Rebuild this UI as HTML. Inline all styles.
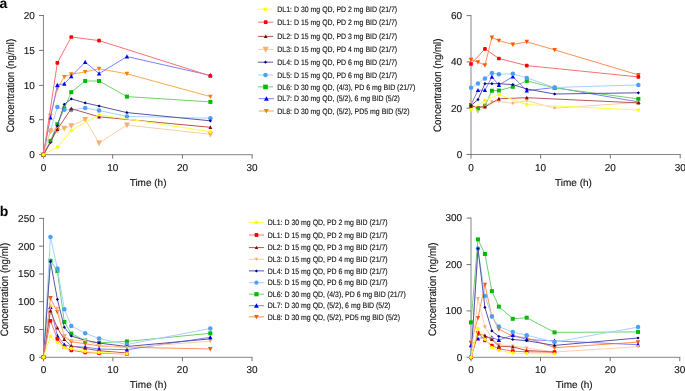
<!DOCTYPE html>
<html><head><meta charset="utf-8"><style>
html,body{margin:0;padding:0;background:#fff;width:685px;height:391px;overflow:hidden}
svg{display:block;will-change:transform;text-rendering:geometricPrecision}
.t{font-family:"Liberation Sans",sans-serif;font-size:10px;fill:#111;stroke:#111;stroke-width:0.12px}
.lg{font-family:"Liberation Sans",sans-serif;font-size:7.8px;fill:#111;stroke:#111;stroke-width:0.13px}
.yl{font-size:10.8px}
.pl{font-family:"Liberation Sans",sans-serif;font-size:14px;font-weight:bold;fill:#000}
</style></head><body>
<svg width="685" height="391" viewBox="0 0 685 391">
<text x="-0.6" y="7.7" class="pl">a</text>
<text x="-0.3" y="215.7" class="pl">b</text>
<path d="M43.45 15.0V154.7H252.6" fill="none" stroke="#858585" stroke-width="1"/>
<path d="M39.05 154.7H43.45" stroke="#666666" stroke-width="0.9"/>
<text x="34.8" y="158.00" text-anchor="end" class="t">0</text>
<path d="M39.05 119.7H43.45" stroke="#666666" stroke-width="0.9"/>
<text x="34.8" y="123.00" text-anchor="end" class="t">5</text>
<path d="M39.05 85.4H43.45" stroke="#666666" stroke-width="0.9"/>
<text x="34.8" y="88.70" text-anchor="end" class="t">10</text>
<path d="M39.05 50.4H43.45" stroke="#666666" stroke-width="0.9"/>
<text x="34.8" y="53.70" text-anchor="end" class="t">15</text>
<path d="M39.05 15.5H43.45" stroke="#666666" stroke-width="0.9"/>
<text x="34.8" y="18.80" text-anchor="end" class="t">20</text>
<path d="M43.45 154.7V158.70" stroke="#666666" stroke-width="0.9"/>
<text x="43.45" y="171.20" text-anchor="middle" class="t">0</text>
<path d="M112.70 154.7V158.70" stroke="#666666" stroke-width="0.9"/>
<text x="112.70" y="171.20" text-anchor="middle" class="t">10</text>
<path d="M182.45 154.7V158.70" stroke="#666666" stroke-width="0.9"/>
<text x="182.45" y="171.20" text-anchor="middle" class="t">20</text>
<path d="M252.10 154.7V158.70" stroke="#666666" stroke-width="0.9"/>
<text x="252.10" y="171.20" text-anchor="middle" class="t">30</text>
<text x="148.1" y="185.9" text-anchor="middle" class="t">Time (h)</text>
<text transform="translate(13.9,85.6) rotate(-90) scale(0.9,1)" text-anchor="middle" class="t yl">Concentration (ng/ml)</text>
<path d="M471.0 15.1V154.5H680.7" fill="none" stroke="#858585" stroke-width="1"/>
<path d="M466.60 154.5H471.0" stroke="#666666" stroke-width="0.9"/>
<text x="462.2" y="157.80" text-anchor="end" class="t">0</text>
<path d="M466.60 108.2H471.0" stroke="#666666" stroke-width="0.9"/>
<text x="462.2" y="111.50" text-anchor="end" class="t">20</text>
<path d="M466.60 61.9H471.0" stroke="#666666" stroke-width="0.9"/>
<text x="462.2" y="65.20" text-anchor="end" class="t">40</text>
<path d="M466.60 15.6H471.0" stroke="#666666" stroke-width="0.9"/>
<text x="462.2" y="18.90" text-anchor="end" class="t">60</text>
<path d="M471.00 154.5V158.50" stroke="#666666" stroke-width="0.9"/>
<text x="471.00" y="171.00" text-anchor="middle" class="t">0</text>
<path d="M540.60 154.5V158.50" stroke="#666666" stroke-width="0.9"/>
<text x="540.60" y="171.00" text-anchor="middle" class="t">10</text>
<path d="M610.30 154.5V158.50" stroke="#666666" stroke-width="0.9"/>
<text x="610.30" y="171.00" text-anchor="middle" class="t">20</text>
<path d="M680.20 154.5V158.50" stroke="#666666" stroke-width="0.9"/>
<text x="680.20" y="171.00" text-anchor="middle" class="t">30</text>
<text x="573.5" y="185.6" text-anchor="middle" class="t">Time (h)</text>
<text transform="translate(441.0,85.2) rotate(-90) scale(0.9,1)" text-anchor="middle" class="t yl">Concentration (ng/ml)</text>
<path d="M43.5 217.9V357.3H252.5" fill="none" stroke="#858585" stroke-width="1"/>
<path d="M39.10 357.3H43.5" stroke="#666666" stroke-width="0.9"/>
<text x="34.8" y="360.60" text-anchor="end" class="t">0</text>
<path d="M39.10 329.5H43.5" stroke="#666666" stroke-width="0.9"/>
<text x="34.8" y="332.80" text-anchor="end" class="t">50</text>
<path d="M39.10 301.7H43.5" stroke="#666666" stroke-width="0.9"/>
<text x="34.8" y="305.00" text-anchor="end" class="t">100</text>
<path d="M39.10 274.0H43.5" stroke="#666666" stroke-width="0.9"/>
<text x="34.8" y="277.30" text-anchor="end" class="t">150</text>
<path d="M39.10 246.2H43.5" stroke="#666666" stroke-width="0.9"/>
<text x="34.8" y="249.50" text-anchor="end" class="t">200</text>
<path d="M39.10 218.4H43.5" stroke="#666666" stroke-width="0.9"/>
<text x="34.8" y="221.70" text-anchor="end" class="t">250</text>
<path d="M43.50 357.3V361.30" stroke="#666666" stroke-width="0.9"/>
<text x="43.50" y="372.80" text-anchor="middle" class="t">0</text>
<path d="M112.90 357.3V361.30" stroke="#666666" stroke-width="0.9"/>
<text x="112.90" y="372.80" text-anchor="middle" class="t">10</text>
<path d="M182.40 357.3V361.30" stroke="#666666" stroke-width="0.9"/>
<text x="182.40" y="372.80" text-anchor="middle" class="t">20</text>
<path d="M252.00 357.3V361.30" stroke="#666666" stroke-width="0.9"/>
<text x="252.00" y="372.80" text-anchor="middle" class="t">30</text>
<text x="148.3" y="388.2" text-anchor="middle" class="t">Time (h)</text>
<text transform="translate(8.2,289.6) rotate(-90) scale(0.9,1)" text-anchor="middle" class="t yl">Concentration (ng/ml)</text>
<path d="M471.0 217.6V357.3H680.3" fill="none" stroke="#858585" stroke-width="1"/>
<path d="M466.60 357.3H471.0" stroke="#666666" stroke-width="0.9"/>
<text x="462.2" y="360.60" text-anchor="end" class="t">0</text>
<path d="M466.60 310.9H471.0" stroke="#666666" stroke-width="0.9"/>
<text x="462.2" y="314.20" text-anchor="end" class="t">100</text>
<path d="M466.60 264.55H471.0" stroke="#666666" stroke-width="0.9"/>
<text x="462.2" y="267.85" text-anchor="end" class="t">200</text>
<path d="M466.60 218.1H471.0" stroke="#666666" stroke-width="0.9"/>
<text x="462.2" y="221.40" text-anchor="end" class="t">300</text>
<path d="M471.00 357.3V361.30" stroke="#666666" stroke-width="0.9"/>
<text x="471.00" y="372.80" text-anchor="middle" class="t">0</text>
<path d="M540.50 357.3V361.30" stroke="#666666" stroke-width="0.9"/>
<text x="540.50" y="372.80" text-anchor="middle" class="t">10</text>
<path d="M610.20 357.3V361.30" stroke="#666666" stroke-width="0.9"/>
<text x="610.20" y="372.80" text-anchor="middle" class="t">20</text>
<path d="M679.80 357.3V361.30" stroke="#666666" stroke-width="0.9"/>
<text x="679.80" y="372.80" text-anchor="middle" class="t">30</text>
<text x="574.2" y="388.4" text-anchor="middle" class="t">Time (h)</text>
<text transform="translate(436.3,289.3) rotate(-90) scale(0.9,1)" text-anchor="middle" class="t yl">Concentration (ng/ml)</text>
<path d="M43.45 154.70L50.41 115.80L57.36 88.50L64.31 76.90L71.27 74.20L85.18 71.90L99.09 68.80L126.91 73.80L210.37 96.60" fill="none" stroke="#ffa84a" stroke-width="1"/>
<path d="M41.15 152.74L45.75 152.74L43.45 157.11Z" fill="#ff8000"/>
<path d="M48.11 113.84L52.70 113.84L50.41 118.22Z" fill="#ff8000"/>
<path d="M55.06 86.55L59.66 86.55L57.36 90.92Z" fill="#ff8000"/>
<path d="M62.02 74.95L66.61 74.95L64.31 79.32Z" fill="#ff8000"/>
<path d="M68.97 72.25L73.57 72.25L71.27 76.62Z" fill="#ff8000"/>
<path d="M82.88 69.95L87.48 69.95L85.18 74.32Z" fill="#ff8000"/>
<path d="M96.79 66.84L101.39 66.84L99.09 71.22Z" fill="#ff8000"/>
<path d="M124.61 71.84L129.21 71.84L126.91 76.22Z" fill="#ff8000"/>
<path d="M208.07 94.64L212.67 94.64L210.37 99.02Z" fill="#ff8000"/>
<path d="M43.45 154.70L50.41 117.70L57.36 85.10L64.31 83.80L71.27 76.40L85.18 62.10L99.09 73.60L126.91 56.60L210.37 75.40" fill="none" stroke="#7f7fff" stroke-width="1"/>
<path d="M43.45 152.39L45.65 156.57L41.25 156.57Z" fill="#0000ff"/>
<path d="M50.41 115.39L52.61 119.57L48.20 119.57Z" fill="#0000ff"/>
<path d="M57.36 82.79L59.56 86.97L55.16 86.97Z" fill="#0000ff"/>
<path d="M64.31 81.49L66.52 85.67L62.11 85.67Z" fill="#0000ff"/>
<path d="M71.27 74.09L73.47 78.27L69.07 78.27Z" fill="#0000ff"/>
<path d="M85.18 59.79L87.38 63.97L82.98 63.97Z" fill="#0000ff"/>
<path d="M99.09 71.29L101.29 75.47L96.89 75.47Z" fill="#0000ff"/>
<path d="M126.91 54.29L129.11 58.47L124.71 58.47Z" fill="#0000ff"/>
<path d="M210.37 73.09L212.57 77.27L208.17 77.27Z" fill="#0000ff"/>
<path d="M43.45 154.70L50.41 140.90L57.36 124.20L64.31 108.40L71.27 92.20L85.18 81.00L99.09 81.00L126.91 96.60L210.37 101.90" fill="none" stroke="#70d070" stroke-width="1"/>
<rect x="41.45" y="152.70" width="4.00" height="4.00" fill="#00bb00"/>
<rect x="48.41" y="138.90" width="4.00" height="4.00" fill="#00bb00"/>
<rect x="55.36" y="122.20" width="4.00" height="4.00" fill="#00bb00"/>
<rect x="62.31" y="106.40" width="4.00" height="4.00" fill="#00bb00"/>
<rect x="69.27" y="90.20" width="4.00" height="4.00" fill="#00bb00"/>
<rect x="83.18" y="79.00" width="4.00" height="4.00" fill="#00bb00"/>
<rect x="97.09" y="79.00" width="4.00" height="4.00" fill="#00bb00"/>
<rect x="124.91" y="94.60" width="4.00" height="4.00" fill="#00bb00"/>
<rect x="208.37" y="99.90" width="4.00" height="4.00" fill="#00bb00"/>
<path d="M43.45 154.70L50.41 130.50L57.36 107.10L64.31 109.70L71.27 110.10L85.18 107.90L99.09 110.60L126.91 116.40L210.37 118.20" fill="none" stroke="#a8d0ff" stroke-width="1"/>
<circle cx="43.45" cy="154.70" r="2.25" fill="#4da0fa"/>
<circle cx="50.41" cy="130.50" r="2.25" fill="#4da0fa"/>
<circle cx="57.36" cy="107.10" r="2.25" fill="#4da0fa"/>
<circle cx="64.31" cy="109.70" r="2.25" fill="#4da0fa"/>
<circle cx="71.27" cy="110.10" r="2.25" fill="#4da0fa"/>
<circle cx="85.18" cy="107.90" r="2.25" fill="#4da0fa"/>
<circle cx="99.09" cy="110.60" r="2.25" fill="#4da0fa"/>
<circle cx="126.91" cy="116.40" r="2.25" fill="#4da0fa"/>
<circle cx="210.37" cy="118.20" r="2.25" fill="#4da0fa"/>
<path d="M43.45 154.70L50.41 142.60L57.36 125.90L64.31 104.30L71.27 98.90L85.18 102.90L99.09 106.00L126.91 112.60L210.37 120.80" fill="none" stroke="#5555a8" stroke-width="1"/>
<path d="M43.45 153.10L45.05 154.70L43.45 156.30L41.85 154.70Z" fill="#000080"/>
<path d="M50.41 141.00L52.01 142.60L50.41 144.20L48.80 142.60Z" fill="#000080"/>
<path d="M57.36 124.30L58.96 125.90L57.36 127.50L55.76 125.90Z" fill="#000080"/>
<path d="M64.31 102.70L65.91 104.30L64.31 105.90L62.71 104.30Z" fill="#000080"/>
<path d="M71.27 97.30L72.87 98.90L71.27 100.50L69.67 98.90Z" fill="#000080"/>
<path d="M85.18 101.30L86.78 102.90L85.18 104.50L83.58 102.90Z" fill="#000080"/>
<path d="M99.09 104.40L100.69 106.00L99.09 107.60L97.49 106.00Z" fill="#000080"/>
<path d="M126.91 111.00L128.51 112.60L126.91 114.20L125.31 112.60Z" fill="#000080"/>
<path d="M210.37 119.20L211.97 120.80L210.37 122.40L208.77 120.80Z" fill="#000080"/>
<path d="M43.45 154.70L50.41 131.10L57.36 130.50L64.31 128.30L71.27 125.80L85.18 119.50L99.09 143.00L126.91 125.10L210.37 134.30" fill="none" stroke="#f9cfa8" stroke-width="1"/>
<path d="M40.45 152.15L46.45 152.15L43.45 157.85Z" fill="#f5b070"/>
<path d="M47.41 128.55L53.41 128.55L50.41 134.25Z" fill="#f5b070"/>
<path d="M54.36 127.95L60.36 127.95L57.36 133.65Z" fill="#f5b070"/>
<path d="M61.31 125.75L67.31 125.75L64.31 131.45Z" fill="#f5b070"/>
<path d="M68.27 123.25L74.27 123.25L71.27 128.95Z" fill="#f5b070"/>
<path d="M82.18 116.95L88.18 116.95L85.18 122.65Z" fill="#f5b070"/>
<path d="M96.09 140.45L102.09 140.45L99.09 146.15Z" fill="#f5b070"/>
<path d="M123.91 122.55L129.91 122.55L126.91 128.25Z" fill="#f5b070"/>
<path d="M207.37 131.75L213.37 131.75L210.37 137.45Z" fill="#f5b070"/>
<path d="M43.45 154.70L57.36 129.40L71.27 108.60L99.09 116.80L210.37 127.30" fill="none" stroke="#b85555" stroke-width="1"/>
<path d="M43.45 152.70L45.35 156.31L41.55 156.31Z" fill="#990000"/>
<path d="M57.36 127.41L59.26 131.02L55.46 131.02Z" fill="#990000"/>
<path d="M71.27 106.60L73.17 110.21L69.37 110.21Z" fill="#990000"/>
<path d="M99.09 114.80L100.99 118.41L97.19 118.41Z" fill="#990000"/>
<path d="M210.37 125.30L212.27 128.91L208.47 128.91Z" fill="#990000"/>
<path d="M43.45 154.70L57.36 62.90L71.27 37.00L99.09 40.60L210.37 75.90" fill="none" stroke="#ff7070" stroke-width="1"/>
<rect x="41.60" y="152.85" width="3.70" height="3.70" rx="0.9" fill="#ff0000"/>
<rect x="55.51" y="61.05" width="3.70" height="3.70" rx="0.9" fill="#ff0000"/>
<rect x="69.42" y="35.15" width="3.70" height="3.70" rx="0.9" fill="#ff0000"/>
<rect x="97.24" y="38.75" width="3.70" height="3.70" rx="0.9" fill="#ff0000"/>
<rect x="208.52" y="74.05" width="3.70" height="3.70" rx="0.9" fill="#ff0000"/>
<path d="M43.45 154.70L57.36 147.00L71.27 130.40L99.09 114.70L210.37 131.70" fill="none" stroke="#ffff40" stroke-width="1"/>
<circle cx="43.45" cy="154.70" r="1.80" fill="#ffff00"/>
<circle cx="57.36" cy="147.00" r="1.80" fill="#ffff00"/>
<circle cx="71.27" cy="130.40" r="1.80" fill="#ffff00"/>
<circle cx="99.09" cy="114.70" r="1.80" fill="#ffff00"/>
<circle cx="210.37" cy="131.70" r="1.80" fill="#ffff00"/>
<path d="M471.00 59.80L477.97 62.10L484.95 65.30L491.92 37.50L498.89 40.60L512.84 44.50L526.78 41.80L554.68 49.90L638.35 74.90" fill="none" stroke="#ff9058" stroke-width="1"/>
<path d="M468.70 57.84L473.30 57.84L471.00 62.21Z" fill="#ff5a00"/>
<path d="M475.67 60.15L480.27 60.15L477.97 64.52Z" fill="#ff5a00"/>
<path d="M482.65 63.34L487.25 63.34L484.95 67.72Z" fill="#ff5a00"/>
<path d="M489.62 35.55L494.22 35.55L491.92 39.91Z" fill="#ff5a00"/>
<path d="M496.59 38.65L501.19 38.65L498.89 43.02Z" fill="#ff5a00"/>
<path d="M510.54 42.55L515.14 42.55L512.84 46.91Z" fill="#ff5a00"/>
<path d="M524.48 39.84L529.08 39.84L526.78 44.21Z" fill="#ff5a00"/>
<path d="M552.38 47.95L556.98 47.95L554.68 52.31Z" fill="#ff5a00"/>
<path d="M636.05 72.95L640.65 72.95L638.35 77.32Z" fill="#ff5a00"/>
<path d="M471.00 105.00L477.97 90.20L484.95 90.20L491.92 76.90L498.89 85.10L512.84 76.60L526.78 90.70L554.68 87.50L638.35 101.90" fill="none" stroke="#7f7fff" stroke-width="1"/>
<path d="M471.00 102.69L473.20 106.87L468.80 106.87Z" fill="#0000ff"/>
<path d="M477.97 87.89L480.17 92.07L475.77 92.07Z" fill="#0000ff"/>
<path d="M484.95 87.89L487.15 92.07L482.75 92.07Z" fill="#0000ff"/>
<path d="M491.92 74.59L494.12 78.77L489.72 78.77Z" fill="#0000ff"/>
<path d="M498.89 82.79L501.09 86.97L496.69 86.97Z" fill="#0000ff"/>
<path d="M512.84 74.29L515.04 78.47L510.64 78.47Z" fill="#0000ff"/>
<path d="M526.78 88.39L528.98 92.57L524.58 92.57Z" fill="#0000ff"/>
<path d="M554.68 85.19L556.88 89.37L552.48 89.37Z" fill="#0000ff"/>
<path d="M638.35 99.59L640.55 103.77L636.15 103.77Z" fill="#0000ff"/>
<path d="M471.00 105.00L477.97 108.40L484.95 105.70L491.92 90.70L498.89 90.50L512.84 86.80L526.78 80.90L554.68 87.90L638.35 98.90" fill="none" stroke="#70d070" stroke-width="1"/>
<rect x="469.00" y="103.00" width="4.00" height="4.00" fill="#00bb00"/>
<rect x="475.97" y="106.40" width="4.00" height="4.00" fill="#00bb00"/>
<rect x="482.95" y="103.70" width="4.00" height="4.00" fill="#00bb00"/>
<rect x="489.92" y="88.70" width="4.00" height="4.00" fill="#00bb00"/>
<rect x="496.89" y="88.50" width="4.00" height="4.00" fill="#00bb00"/>
<rect x="510.84" y="84.80" width="4.00" height="4.00" fill="#00bb00"/>
<rect x="524.78" y="78.90" width="4.00" height="4.00" fill="#00bb00"/>
<rect x="552.68" y="85.90" width="4.00" height="4.00" fill="#00bb00"/>
<rect x="636.35" y="96.90" width="4.00" height="4.00" fill="#00bb00"/>
<path d="M471.00 87.80L477.97 83.50L484.95 78.40L491.92 73.00L498.89 74.30L512.84 73.80L526.78 77.90L554.68 87.50L638.35 84.90" fill="none" stroke="#a8d0ff" stroke-width="1"/>
<circle cx="471.00" cy="87.80" r="2.25" fill="#4da0fa"/>
<circle cx="477.97" cy="83.50" r="2.25" fill="#4da0fa"/>
<circle cx="484.95" cy="78.40" r="2.25" fill="#4da0fa"/>
<circle cx="491.92" cy="73.00" r="2.25" fill="#4da0fa"/>
<circle cx="498.89" cy="74.30" r="2.25" fill="#4da0fa"/>
<circle cx="512.84" cy="73.80" r="2.25" fill="#4da0fa"/>
<circle cx="526.78" cy="77.90" r="2.25" fill="#4da0fa"/>
<circle cx="554.68" cy="87.50" r="2.25" fill="#4da0fa"/>
<circle cx="638.35" cy="84.90" r="2.25" fill="#4da0fa"/>
<path d="M471.00 105.50L477.97 99.60L484.95 83.70L491.92 83.70L498.89 83.70L512.84 84.60L526.78 89.00L554.68 94.00L638.35 92.80" fill="none" stroke="#5555a8" stroke-width="1"/>
<path d="M471.00 103.90L472.60 105.50L471.00 107.10L469.40 105.50Z" fill="#000080"/>
<path d="M477.97 98.00L479.57 99.60L477.97 101.20L476.37 99.60Z" fill="#000080"/>
<path d="M484.95 82.10L486.55 83.70L484.95 85.30L483.35 83.70Z" fill="#000080"/>
<path d="M491.92 82.10L493.52 83.70L491.92 85.30L490.32 83.70Z" fill="#000080"/>
<path d="M498.89 82.10L500.49 83.70L498.89 85.30L497.29 83.70Z" fill="#000080"/>
<path d="M512.84 83.00L514.44 84.60L512.84 86.20L511.24 84.60Z" fill="#000080"/>
<path d="M526.78 87.40L528.38 89.00L526.78 90.60L525.18 89.00Z" fill="#000080"/>
<path d="M554.68 92.40L556.28 94.00L554.68 95.60L553.08 94.00Z" fill="#000080"/>
<path d="M638.35 91.20L639.95 92.80L638.35 94.40L636.75 92.80Z" fill="#000080"/>
<path d="M471.00 101.50L477.97 111.90L484.95 106.00L491.92 101.90L498.89 101.50L512.84 103.40L526.78 100.60L554.68 108.20L638.35 102.40" fill="none" stroke="#f9cfa8" stroke-width="1"/>
<path d="M469.20 99.97L472.80 99.97L471.00 103.39Z" fill="#f5b070"/>
<path d="M476.17 110.37L479.77 110.37L477.97 113.79Z" fill="#f5b070"/>
<path d="M483.15 104.47L486.75 104.47L484.95 107.89Z" fill="#f5b070"/>
<path d="M490.12 100.37L493.72 100.37L491.92 103.79Z" fill="#f5b070"/>
<path d="M497.09 99.97L500.69 99.97L498.89 103.39Z" fill="#f5b070"/>
<path d="M511.04 101.87L514.64 101.87L512.84 105.29Z" fill="#f5b070"/>
<path d="M524.98 99.07L528.58 99.07L526.78 102.49Z" fill="#f5b070"/>
<path d="M552.88 106.67L556.48 106.67L554.68 110.09Z" fill="#f5b070"/>
<path d="M636.55 100.87L640.15 100.87L638.35 104.29Z" fill="#f5b070"/>
<path d="M471.00 106.50L484.95 107.00L498.89 98.80L526.78 97.70L638.35 102.90" fill="none" stroke="#b85555" stroke-width="1"/>
<path d="M471.00 104.50L472.90 108.11L469.10 108.11Z" fill="#990000"/>
<path d="M484.95 105.00L486.85 108.61L483.05 108.61Z" fill="#990000"/>
<path d="M498.89 96.80L500.79 100.41L496.99 100.41Z" fill="#990000"/>
<path d="M526.78 95.70L528.68 99.31L524.88 99.31Z" fill="#990000"/>
<path d="M638.35 100.91L640.25 104.52L636.45 104.52Z" fill="#990000"/>
<path d="M471.00 64.00L484.95 48.90L498.89 58.50L526.78 65.60L638.35 76.90" fill="none" stroke="#ff7070" stroke-width="1"/>
<rect x="469.15" y="62.15" width="3.70" height="3.70" rx="0.9" fill="#ff0000"/>
<rect x="483.10" y="47.05" width="3.70" height="3.70" rx="0.9" fill="#ff0000"/>
<rect x="497.04" y="56.65" width="3.70" height="3.70" rx="0.9" fill="#ff0000"/>
<rect x="524.93" y="63.75" width="3.70" height="3.70" rx="0.9" fill="#ff0000"/>
<rect x="636.50" y="75.05" width="3.70" height="3.70" rx="0.9" fill="#ff0000"/>
<path d="M471.00 109.80L484.95 100.40L498.89 94.60L526.78 104.60L638.35 110.00" fill="none" stroke="#ffff40" stroke-width="1"/>
<circle cx="471.00" cy="109.80" r="1.80" fill="#ffff00"/>
<circle cx="484.95" cy="100.40" r="1.80" fill="#ffff00"/>
<circle cx="498.89" cy="94.60" r="1.80" fill="#ffff00"/>
<circle cx="526.78" cy="104.60" r="1.80" fill="#ffff00"/>
<circle cx="638.35" cy="110.00" r="1.80" fill="#ffff00"/>
<path d="M43.50 357.20L50.45 298.00L57.40 312.00L64.35 336.50L71.30 341.80L85.20 343.70L99.10 346.00L126.90 347.20L210.30 349.00" fill="none" stroke="#ff9058" stroke-width="1"/>
<path d="M41.20 355.25L45.80 355.25L43.50 359.62Z" fill="#ff5a00"/>
<path d="M48.15 296.05L52.75 296.05L50.45 300.42Z" fill="#ff5a00"/>
<path d="M55.10 310.05L59.70 310.05L57.40 314.42Z" fill="#ff5a00"/>
<path d="M62.05 334.55L66.65 334.55L64.35 338.92Z" fill="#ff5a00"/>
<path d="M69.00 339.85L73.60 339.85L71.30 344.22Z" fill="#ff5a00"/>
<path d="M82.90 341.75L87.50 341.75L85.20 346.12Z" fill="#ff5a00"/>
<path d="M96.80 344.05L101.40 344.05L99.10 348.42Z" fill="#ff5a00"/>
<path d="M124.60 345.25L129.20 345.25L126.90 349.62Z" fill="#ff5a00"/>
<path d="M208.00 347.05L212.60 347.05L210.30 351.42Z" fill="#ff5a00"/>
<path d="M43.50 357.20L50.45 307.20L57.40 336.00L64.35 344.70L71.30 346.50L85.20 347.10L99.10 349.00L126.90 349.70L210.30 337.30" fill="none" stroke="#7f7fff" stroke-width="1"/>
<path d="M43.50 354.89L45.70 359.07L41.30 359.07Z" fill="#0000ff"/>
<path d="M50.45 304.89L52.65 309.07L48.25 309.07Z" fill="#0000ff"/>
<path d="M57.40 333.69L59.60 337.87L55.20 337.87Z" fill="#0000ff"/>
<path d="M64.35 342.39L66.55 346.57L62.15 346.57Z" fill="#0000ff"/>
<path d="M71.30 344.19L73.50 348.37L69.10 348.37Z" fill="#0000ff"/>
<path d="M85.20 344.79L87.40 348.97L83.00 348.97Z" fill="#0000ff"/>
<path d="M99.10 346.69L101.30 350.87L96.90 350.87Z" fill="#0000ff"/>
<path d="M126.90 347.39L129.10 351.57L124.70 351.57Z" fill="#0000ff"/>
<path d="M210.30 334.99L212.50 339.17L208.10 339.17Z" fill="#0000ff"/>
<path d="M43.50 357.20L50.45 260.70L57.40 271.10L64.35 322.00L71.30 333.60L85.20 340.60L99.10 342.80L126.90 341.40L210.30 333.30" fill="none" stroke="#70d070" stroke-width="1"/>
<rect x="41.50" y="355.20" width="4.00" height="4.00" fill="#00bb00"/>
<rect x="48.45" y="258.70" width="4.00" height="4.00" fill="#00bb00"/>
<rect x="55.40" y="269.10" width="4.00" height="4.00" fill="#00bb00"/>
<rect x="62.35" y="320.00" width="4.00" height="4.00" fill="#00bb00"/>
<rect x="69.30" y="331.60" width="4.00" height="4.00" fill="#00bb00"/>
<rect x="83.20" y="338.60" width="4.00" height="4.00" fill="#00bb00"/>
<rect x="97.10" y="340.80" width="4.00" height="4.00" fill="#00bb00"/>
<rect x="124.90" y="339.40" width="4.00" height="4.00" fill="#00bb00"/>
<rect x="208.30" y="331.30" width="4.00" height="4.00" fill="#00bb00"/>
<path d="M43.50 357.20L50.45 236.90L57.40 268.60L64.35 309.20L71.30 326.00L85.20 333.20L99.10 338.60L126.90 344.50L210.30 328.50" fill="none" stroke="#a8d0ff" stroke-width="1"/>
<circle cx="43.50" cy="357.20" r="2.25" fill="#4da0fa"/>
<circle cx="50.45" cy="236.90" r="2.25" fill="#4da0fa"/>
<circle cx="57.40" cy="268.60" r="2.25" fill="#4da0fa"/>
<circle cx="64.35" cy="309.20" r="2.25" fill="#4da0fa"/>
<circle cx="71.30" cy="326.00" r="2.25" fill="#4da0fa"/>
<circle cx="85.20" cy="333.20" r="2.25" fill="#4da0fa"/>
<circle cx="99.10" cy="338.60" r="2.25" fill="#4da0fa"/>
<circle cx="126.90" cy="344.50" r="2.25" fill="#4da0fa"/>
<circle cx="210.30" cy="328.50" r="2.25" fill="#4da0fa"/>
<path d="M43.50 357.20L50.45 261.40L57.40 299.40L64.35 327.30L71.30 336.00L85.20 340.30L99.10 343.10L126.90 346.50L210.30 338.90" fill="none" stroke="#5555a8" stroke-width="1"/>
<path d="M43.50 355.60L45.10 357.20L43.50 358.80L41.90 357.20Z" fill="#000080"/>
<path d="M50.45 259.80L52.05 261.40L50.45 263.00L48.85 261.40Z" fill="#000080"/>
<path d="M57.40 297.80L59.00 299.40L57.40 301.00L55.80 299.40Z" fill="#000080"/>
<path d="M64.35 325.70L65.95 327.30L64.35 328.90L62.75 327.30Z" fill="#000080"/>
<path d="M71.30 334.40L72.90 336.00L71.30 337.60L69.70 336.00Z" fill="#000080"/>
<path d="M85.20 338.70L86.80 340.30L85.20 341.90L83.60 340.30Z" fill="#000080"/>
<path d="M99.10 341.50L100.70 343.10L99.10 344.70L97.50 343.10Z" fill="#000080"/>
<path d="M126.90 344.90L128.50 346.50L126.90 348.10L125.30 346.50Z" fill="#000080"/>
<path d="M210.30 337.30L211.90 338.90L210.30 340.50L208.70 338.90Z" fill="#000080"/>
<path d="M43.50 357.20L50.45 306.00L57.40 308.40L64.35 336.00L71.30 340.60L85.20 340.50L99.10 345.50L126.90 347.60L210.30 341.20" fill="none" stroke="#f9cfa8" stroke-width="1"/>
<path d="M41.60 355.58L45.40 355.58L43.50 359.19Z" fill="#f5b070"/>
<path d="M48.55 304.38L52.35 304.38L50.45 308.00Z" fill="#f5b070"/>
<path d="M55.50 306.78L59.30 306.78L57.40 310.39Z" fill="#f5b070"/>
<path d="M62.45 334.38L66.25 334.38L64.35 338.00Z" fill="#f5b070"/>
<path d="M69.40 338.99L73.20 338.99L71.30 342.60Z" fill="#f5b070"/>
<path d="M83.30 338.88L87.10 338.88L85.20 342.50Z" fill="#f5b070"/>
<path d="M97.20 343.88L101.00 343.88L99.10 347.50Z" fill="#f5b070"/>
<path d="M125.00 345.99L128.80 345.99L126.90 349.60Z" fill="#f5b070"/>
<path d="M208.40 339.58L212.20 339.58L210.30 343.19Z" fill="#f5b070"/>
<path d="M43.50 357.20L50.45 311.00L57.40 328.00L64.35 339.50L71.30 345.90L85.20 348.50L99.10 350.70L126.90 353.00" fill="none" stroke="#b85555" stroke-width="1"/>
<path d="M43.50 355.20L45.40 358.81L41.60 358.81Z" fill="#990000"/>
<path d="M50.45 309.00L52.35 312.62L48.55 312.62Z" fill="#990000"/>
<path d="M57.40 326.00L59.30 329.62L55.50 329.62Z" fill="#990000"/>
<path d="M64.35 337.50L66.25 341.12L62.45 341.12Z" fill="#990000"/>
<path d="M71.30 343.90L73.20 347.51L69.40 347.51Z" fill="#990000"/>
<path d="M85.20 346.50L87.10 350.12L83.30 350.12Z" fill="#990000"/>
<path d="M99.10 348.70L101.00 352.31L97.20 352.31Z" fill="#990000"/>
<path d="M126.90 351.00L128.80 354.62L125.00 354.62Z" fill="#990000"/>
<path d="M43.50 357.20L50.45 320.80L57.40 338.90L64.35 347.10L71.30 350.30L85.20 352.50L99.10 353.10L126.90 354.00" fill="none" stroke="#ff7070" stroke-width="1"/>
<rect x="41.65" y="355.35" width="3.70" height="3.70" rx="0.9" fill="#ff0000"/>
<rect x="48.60" y="318.95" width="3.70" height="3.70" rx="0.9" fill="#ff0000"/>
<rect x="55.55" y="337.05" width="3.70" height="3.70" rx="0.9" fill="#ff0000"/>
<rect x="62.50" y="345.25" width="3.70" height="3.70" rx="0.9" fill="#ff0000"/>
<rect x="69.45" y="348.45" width="3.70" height="3.70" rx="0.9" fill="#ff0000"/>
<rect x="83.35" y="350.65" width="3.70" height="3.70" rx="0.9" fill="#ff0000"/>
<rect x="97.25" y="351.25" width="3.70" height="3.70" rx="0.9" fill="#ff0000"/>
<rect x="125.05" y="352.15" width="3.70" height="3.70" rx="0.9" fill="#ff0000"/>
<path d="M43.50 357.20L50.45 336.40L57.40 342.70L64.35 347.80L71.30 348.60L85.20 351.40L99.10 352.40L126.90 353.80" fill="none" stroke="#ffff40" stroke-width="1"/>
<circle cx="43.50" cy="357.20" r="1.80" fill="#ffff00"/>
<circle cx="50.45" cy="336.40" r="1.80" fill="#ffff00"/>
<circle cx="57.40" cy="342.70" r="1.80" fill="#ffff00"/>
<circle cx="64.35" cy="347.80" r="1.80" fill="#ffff00"/>
<circle cx="71.30" cy="348.60" r="1.80" fill="#ffff00"/>
<circle cx="85.20" cy="351.40" r="1.80" fill="#ffff00"/>
<circle cx="99.10" cy="352.40" r="1.80" fill="#ffff00"/>
<circle cx="126.90" cy="353.80" r="1.80" fill="#ffff00"/>
<path d="M471.00 342.80L477.96 318.00L484.92 284.70L491.88 316.50L498.84 329.00L512.76 336.40L526.68 337.70L554.52 347.70L638.04 342.10" fill="none" stroke="#ff9058" stroke-width="1"/>
<path d="M468.70 340.85L473.30 340.85L471.00 345.22Z" fill="#ff5a00"/>
<path d="M475.66 316.05L480.26 316.05L477.96 320.42Z" fill="#ff5a00"/>
<path d="M482.62 282.75L487.22 282.75L484.92 287.12Z" fill="#ff5a00"/>
<path d="M489.58 314.55L494.18 314.55L491.88 318.92Z" fill="#ff5a00"/>
<path d="M496.54 327.05L501.14 327.05L498.84 331.42Z" fill="#ff5a00"/>
<path d="M510.46 334.44L515.06 334.44L512.76 338.81Z" fill="#ff5a00"/>
<path d="M524.38 335.75L528.98 335.75L526.68 340.12Z" fill="#ff5a00"/>
<path d="M552.22 345.75L556.82 345.75L554.52 350.12Z" fill="#ff5a00"/>
<path d="M635.74 340.15L640.34 340.15L638.04 344.52Z" fill="#ff5a00"/>
<path d="M471.00 345.40L477.96 338.70L484.92 336.90L491.88 337.60L498.84 340.10L512.76 335.20L526.68 339.50L554.52 340.90L638.04 344.70" fill="none" stroke="#7f7fff" stroke-width="1"/>
<path d="M471.00 343.09L473.20 347.27L468.80 347.27Z" fill="#0000ff"/>
<path d="M477.96 336.39L480.16 340.57L475.76 340.57Z" fill="#0000ff"/>
<path d="M484.92 334.59L487.12 338.77L482.72 338.77Z" fill="#0000ff"/>
<path d="M491.88 335.29L494.08 339.47L489.68 339.47Z" fill="#0000ff"/>
<path d="M498.84 337.79L501.04 341.97L496.64 341.97Z" fill="#0000ff"/>
<path d="M512.76 332.89L514.96 337.07L510.56 337.07Z" fill="#0000ff"/>
<path d="M526.68 337.19L528.88 341.37L524.48 341.37Z" fill="#0000ff"/>
<path d="M554.52 338.59L556.72 342.77L552.32 342.77Z" fill="#0000ff"/>
<path d="M638.04 342.39L640.24 346.57L635.84 346.57Z" fill="#0000ff"/>
<path d="M471.00 322.40L477.96 239.40L484.92 254.00L491.88 291.10L498.84 306.60L512.76 318.80L526.68 317.70L554.52 332.40L638.04 331.90" fill="none" stroke="#70d070" stroke-width="1"/>
<rect x="469.00" y="320.40" width="4.00" height="4.00" fill="#00bb00"/>
<rect x="475.96" y="237.40" width="4.00" height="4.00" fill="#00bb00"/>
<rect x="482.92" y="252.00" width="4.00" height="4.00" fill="#00bb00"/>
<rect x="489.88" y="289.10" width="4.00" height="4.00" fill="#00bb00"/>
<rect x="496.84" y="304.60" width="4.00" height="4.00" fill="#00bb00"/>
<rect x="510.76" y="316.80" width="4.00" height="4.00" fill="#00bb00"/>
<rect x="524.68" y="315.70" width="4.00" height="4.00" fill="#00bb00"/>
<rect x="552.52" y="330.40" width="4.00" height="4.00" fill="#00bb00"/>
<rect x="636.04" y="329.90" width="4.00" height="4.00" fill="#00bb00"/>
<path d="M471.00 357.30L477.96 248.60L484.92 296.00L491.88 316.40L498.84 326.60L512.76 332.10L526.68 335.20L554.52 342.10L638.04 327.10" fill="none" stroke="#a8d0ff" stroke-width="1"/>
<circle cx="471.00" cy="357.30" r="2.25" fill="#4da0fa"/>
<circle cx="477.96" cy="248.60" r="2.25" fill="#4da0fa"/>
<circle cx="484.92" cy="296.00" r="2.25" fill="#4da0fa"/>
<circle cx="491.88" cy="316.40" r="2.25" fill="#4da0fa"/>
<circle cx="498.84" cy="326.60" r="2.25" fill="#4da0fa"/>
<circle cx="512.76" cy="332.10" r="2.25" fill="#4da0fa"/>
<circle cx="526.68" cy="335.20" r="2.25" fill="#4da0fa"/>
<circle cx="554.52" cy="342.10" r="2.25" fill="#4da0fa"/>
<circle cx="638.04" cy="327.10" r="2.25" fill="#4da0fa"/>
<path d="M471.00 357.30L477.96 248.60L484.92 307.40L491.88 330.90L498.84 336.40L512.76 339.50L526.68 340.70L554.52 345.40L638.04 338.00" fill="none" stroke="#5555a8" stroke-width="1"/>
<path d="M471.00 355.70L472.60 357.30L471.00 358.90L469.40 357.30Z" fill="#000080"/>
<path d="M477.96 247.00L479.56 248.60L477.96 250.20L476.36 248.60Z" fill="#000080"/>
<path d="M484.92 305.80L486.52 307.40L484.92 309.00L483.32 307.40Z" fill="#000080"/>
<path d="M491.88 329.30L493.48 330.90L491.88 332.50L490.28 330.90Z" fill="#000080"/>
<path d="M498.84 334.80L500.44 336.40L498.84 338.00L497.24 336.40Z" fill="#000080"/>
<path d="M512.76 337.90L514.36 339.50L512.76 341.10L511.16 339.50Z" fill="#000080"/>
<path d="M526.68 339.10L528.28 340.70L526.68 342.30L525.08 340.70Z" fill="#000080"/>
<path d="M554.52 343.80L556.12 345.40L554.52 347.00L552.92 345.40Z" fill="#000080"/>
<path d="M638.04 336.40L639.64 338.00L638.04 339.60L636.44 338.00Z" fill="#000080"/>
<path d="M471.00 357.30L477.96 298.60L484.92 326.90L491.88 338.50L498.84 344.50L512.76 346.00L526.68 348.00L554.52 352.00L638.04 346.70" fill="none" stroke="#f9cfa8" stroke-width="1"/>
<path d="M469.10 355.69L472.90 355.69L471.00 359.30Z" fill="#f5b070"/>
<path d="M476.06 296.99L479.86 296.99L477.96 300.60Z" fill="#f5b070"/>
<path d="M483.02 325.28L486.82 325.28L484.92 328.89Z" fill="#f5b070"/>
<path d="M489.98 336.88L493.78 336.88L491.88 340.50Z" fill="#f5b070"/>
<path d="M496.94 342.88L500.74 342.88L498.84 346.50Z" fill="#f5b070"/>
<path d="M510.86 344.38L514.66 344.38L512.76 348.00Z" fill="#f5b070"/>
<path d="M524.78 346.38L528.58 346.38L526.68 350.00Z" fill="#f5b070"/>
<path d="M552.62 350.38L556.42 350.38L554.52 354.00Z" fill="#f5b070"/>
<path d="M636.14 345.08L639.94 345.08L638.04 348.69Z" fill="#f5b070"/>
<path d="M471.00 357.30L477.96 334.00L484.92 335.50L491.88 339.50L498.84 346.20L512.76 346.90L526.68 350.50L554.52 352.00" fill="none" stroke="#b85555" stroke-width="1"/>
<path d="M471.00 355.31L472.90 358.92L469.10 358.92Z" fill="#990000"/>
<path d="M477.96 332.00L479.86 335.62L476.06 335.62Z" fill="#990000"/>
<path d="M484.92 333.50L486.82 337.12L483.02 337.12Z" fill="#990000"/>
<path d="M491.88 337.50L493.78 341.12L489.98 341.12Z" fill="#990000"/>
<path d="M498.84 344.20L500.74 347.81L496.94 347.81Z" fill="#990000"/>
<path d="M512.76 344.90L514.66 348.51L510.86 348.51Z" fill="#990000"/>
<path d="M526.68 348.50L528.58 352.12L524.78 352.12Z" fill="#990000"/>
<path d="M554.52 350.00L556.42 353.62L552.62 353.62Z" fill="#990000"/>
<path d="M471.00 357.30L477.96 332.60L484.92 340.40L491.88 345.60L498.84 348.70L512.76 351.20L526.68 351.80L554.52 352.20" fill="none" stroke="#ff7070" stroke-width="1"/>
<rect x="469.15" y="355.45" width="3.70" height="3.70" rx="0.9" fill="#ff0000"/>
<rect x="476.11" y="330.75" width="3.70" height="3.70" rx="0.9" fill="#ff0000"/>
<rect x="483.07" y="338.55" width="3.70" height="3.70" rx="0.9" fill="#ff0000"/>
<rect x="490.03" y="343.75" width="3.70" height="3.70" rx="0.9" fill="#ff0000"/>
<rect x="496.99" y="346.85" width="3.70" height="3.70" rx="0.9" fill="#ff0000"/>
<rect x="510.91" y="349.35" width="3.70" height="3.70" rx="0.9" fill="#ff0000"/>
<rect x="524.83" y="349.95" width="3.70" height="3.70" rx="0.9" fill="#ff0000"/>
<rect x="552.67" y="350.35" width="3.70" height="3.70" rx="0.9" fill="#ff0000"/>
<path d="M471.00 357.30L477.96 328.50L484.92 339.20L491.88 347.50L498.84 350.50L512.76 353.00L526.68 353.60L554.52 354.00" fill="none" stroke="#ffff40" stroke-width="1"/>
<circle cx="471.00" cy="357.30" r="1.80" fill="#ffff00"/>
<circle cx="477.96" cy="328.50" r="1.80" fill="#ffff00"/>
<circle cx="484.92" cy="339.20" r="1.80" fill="#ffff00"/>
<circle cx="491.88" cy="347.50" r="1.80" fill="#ffff00"/>
<circle cx="498.84" cy="350.50" r="1.80" fill="#ffff00"/>
<circle cx="512.76" cy="353.00" r="1.80" fill="#ffff00"/>
<circle cx="526.68" cy="353.60" r="1.80" fill="#ffff00"/>
<circle cx="554.52" cy="354.00" r="1.80" fill="#ffff00"/>
<path d="M257.5 9.2H272.7" stroke="#ffff40" stroke-width="1"/>
<circle cx="265.10" cy="9.20" r="1.80" fill="#ffff00"/>
<text x="277.3" y="11.80" class="lg" transform="translate(277.3,0) scale(0.892,1) translate(-277.3,0)">DL1: D 30 mg QD, PD 2 mg BID (21/7)</text>
<path d="M258.1 22.2H273.3" stroke="#ff7070" stroke-width="1"/>
<rect x="263.85" y="20.35" width="3.70" height="3.70" rx="0.9" fill="#ff0000"/>
<text x="277.3" y="24.80" class="lg" transform="translate(277.3,0) scale(0.892,1) translate(-277.3,0)">DL1: D 15 mg QD, PD 2 mg BID (21/7)</text>
<path d="M258.1 36.4H273.3" stroke="#b85555" stroke-width="1"/>
<path d="M265.70 34.41L267.60 38.02L263.80 38.02Z" fill="#990000"/>
<text x="277.3" y="39.00" class="lg" transform="translate(277.3,0) scale(0.892,1) translate(-277.3,0)">DL2: D 15 mg QD, PD 3 mg BID (21/7)</text>
<path d="M258.1 49.4H273.3" stroke="#f9cfa8" stroke-width="1"/>
<path d="M262.60 46.77L268.80 46.77L265.70 52.66Z" fill="#f5b070"/>
<text x="277.3" y="52.00" class="lg" transform="translate(277.3,0) scale(0.892,1) translate(-277.3,0)">DL3: D 15 mg QD, PD 4 mg BID (21/7)</text>
<path d="M257.90000000000003 62.2H273.1" stroke="#5555a8" stroke-width="1"/>
<path d="M265.50 60.60L267.10 62.20L265.50 63.80L263.90 62.20Z" fill="#000080"/>
<text x="277.3" y="64.80" class="lg" transform="translate(277.3,0) scale(0.892,1) translate(-277.3,0)">DL4: D 15 mg QD, PD 6 mg BID (21/7)</text>
<path d="M257.90000000000003 75H273.1" stroke="#a8d0ff" stroke-width="1"/>
<circle cx="265.50" cy="75.00" r="2.30" fill="#4da0fa"/>
<text x="277.3" y="77.60" class="lg" transform="translate(277.3,0) scale(0.892,1) translate(-277.3,0)">DL5: D 15 mg QD, PD 6 mg BID (21/7)</text>
<path d="M257.90000000000003 86.9H273.1" stroke="#70d070" stroke-width="1"/>
<rect x="263.20" y="84.60" width="4.60" height="4.60" fill="#00bb00"/>
<text x="277.3" y="89.50" class="lg" transform="translate(277.3,0) scale(0.892,1) translate(-277.3,0)">DL6: D 30 mg QD, (4/3), PD 6 mg BID (21/7)</text>
<path d="M258.8 98.7H274.0" stroke="#7f7fff" stroke-width="1"/>
<path d="M266.40 96.13L268.85 100.78L263.95 100.78Z" fill="#0000ff"/>
<text x="277.3" y="101.30" class="lg" transform="translate(277.3,0) scale(0.892,1) translate(-277.3,0)">DL7: D 30 mg QD, (5/2), 6 mg BID (5/2)</text>
<path d="M258.70000000000005 111H273.90000000000003" stroke="#ffa84a" stroke-width="1"/>
<path d="M263.80 108.88L268.80 108.88L266.30 113.62Z" fill="#ff8000"/>
<text x="277.3" y="113.60" class="lg" transform="translate(277.3,0) scale(0.892,1) translate(-277.3,0)">DL8: D 30 mg QD, (5/2), PD5 mg BID (5/2)</text>
<path d="M248.9 222.4H264.0" stroke="#ffff40" stroke-width="1"/>
<circle cx="256.45" cy="222.40" r="1.80" fill="#ffff00"/>
<text x="267.8" y="225.00" class="lg" transform="translate(267.8,0) scale(0.892,1) translate(-267.8,0)">DL1: D 30 mg QD, PD 2 mg BID (21/7)</text>
<path d="M248.9 235H264.0" stroke="#ff7070" stroke-width="1"/>
<rect x="254.55" y="233.10" width="3.80" height="3.80" rx="0.9" fill="#ff0000"/>
<text x="267.8" y="237.60" class="lg" transform="translate(267.8,0) scale(0.892,1) translate(-267.8,0)">DL1: D 15 mg QD, PD 2 mg BID (21/7)</text>
<path d="M248.9 247.6H264.0" stroke="#b85555" stroke-width="1"/>
<path d="M256.45 245.81L258.15 249.04L254.75 249.04Z" fill="#990000"/>
<text x="267.8" y="250.20" class="lg" transform="translate(267.8,0) scale(0.892,1) translate(-267.8,0)">DL2: D 15 mg QD, PD 3 mg BID (21/7)</text>
<path d="M248.9 259.3H264.0" stroke="#f9cfa8" stroke-width="1"/>
<path d="M254.75 257.86L258.15 257.86L256.45 261.09Z" fill="#f5b070"/>
<text x="267.8" y="261.90" class="lg" transform="translate(267.8,0) scale(0.892,1) translate(-267.8,0)">DL3: D 15 mg QD, PD 4 mg BID (21/7)</text>
<path d="M248.9 270.9H264.0" stroke="#5555a8" stroke-width="1"/>
<path d="M256.45 269.40L257.95 270.90L256.45 272.40L254.95 270.90Z" fill="#000080"/>
<text x="267.8" y="273.50" class="lg" transform="translate(267.8,0) scale(0.892,1) translate(-267.8,0)">DL4: D 15 mg QD, PD 6 mg BID (21/7)</text>
<path d="M248.9 282.7H264.0" stroke="#a8d0ff" stroke-width="1"/>
<circle cx="256.45" cy="282.70" r="2.10" fill="#4da0fa"/>
<text x="267.8" y="285.30" class="lg" transform="translate(267.8,0) scale(0.892,1) translate(-267.8,0)">DL5: D 15 mg QD, PD 6 mg BID (21/7)</text>
<path d="M248.9 294.2H264.0" stroke="#70d070" stroke-width="1"/>
<rect x="254.35" y="292.10" width="4.20" height="4.20" fill="#00bb00"/>
<text x="267.8" y="296.80" class="lg" transform="translate(267.8,0) scale(0.892,1) translate(-267.8,0)">DL6: D 30 mg QD, (4/3), PD 6 mg BID (21/7)</text>
<path d="M248.9 305.7H264.0" stroke="#7f7fff" stroke-width="1"/>
<path d="M256.45 303.18L258.85 307.74L254.05 307.74Z" fill="#0000ff"/>
<text x="267.8" y="308.30" class="lg" transform="translate(267.8,0) scale(0.892,1) translate(-267.8,0)">DL7: D 30 mg QD, (5/2), 6 mg BID (5/2)</text>
<path d="M248.9 316.9H264.0" stroke="#ff9058" stroke-width="1"/>
<path d="M254.15 314.94L258.75 314.94L256.45 319.31Z" fill="#ff5a00"/>
<text x="267.8" y="319.50" class="lg" transform="translate(267.8,0) scale(0.892,1) translate(-267.8,0)">DL8: D 30 mg QD, (5/2), PD5 mg BID (5/2)</text>
</svg>
</body></html>
